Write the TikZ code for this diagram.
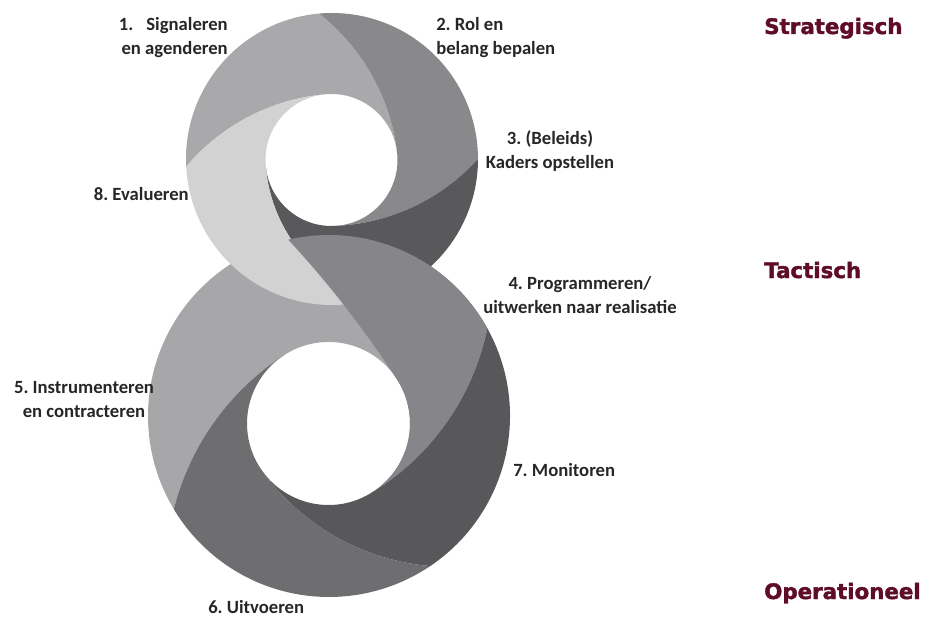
\documentclass[tikz,border=0pt]{standalone}
\usepackage{fontspec}
\setmainfont{Carlito}
\newfontfamily\labfont[BoldFeatures={FakeBold=1.8}]{DejaVu Sans}
\usetikzlibrary{calc}
\frenchspacing
\definecolor{segA}{HTML}{A9A9AB}
\definecolor{segB}{HTML}{89898C}
\definecolor{segC}{HTML}{59595B}
\definecolor{segH}{HTML}{D2D2D2}
\definecolor{segD}{HTML}{86868A}
\definecolor{segE}{HTML}{A7A7A9}
\definecolor{segF}{HTML}{6E6E71}
\definecolor{segG}{HTML}{58585A}
\definecolor{txt}{HTML}{262626}
\definecolor{maroon}{HTML}{5F0C26}
% ring parameters: hole centre, outer centre, inner radius, outer radius
\newcommand\setring[6]{\def\hx{#1}\def\hy{#2}\def\ox{#3}\def\oy{#4}\def\rr{#5}\def\RR{#6}}
% boundary: name, outer angle, inner (tangent) angle
\newcommand\mkbnd[3]{%
 \pgfmathsetmacro\tux{cos(#3)}%
 \pgfmathsetmacro\tuy{sin(#3)}%
 \pgfmathsetmacro\twx{\ox+\RR*cos(#2)-\hx}%
 \pgfmathsetmacro\twy{\oy+\RR*sin(#2)-\hy}%
 \pgfmathsetmacro\twu{\twx*\tux+\twy*\tuy}%
 \pgfmathsetmacro\trho{(\twx*\twx+\twy*\twy-2*\rr*\twu+\rr*\rr)/(2*\rr-2*\twu)}%
 \pgfmathsetmacro\tox{\hx+(\rr-\trho)*\tux}%
 \pgfmathsetmacro\toy{\hy+(\rr-\trho)*\tuy}%
 \pgfmathsetmacro\tal{atan2(\twy+\hy-\toy,\twx+\hx-\tox)}%
 \pgfmathsetmacro\tal{(#3)+mod(mod(\tal-(#3),360)+360,360)}%
 \expandafter\xdef\csname bnd#1th\endcsname{#2}%
 \expandafter\xdef\csname bnd#1ph\endcsname{#3}%
 \expandafter\xdef\csname bnd#1rho\endcsname{\trho}%
 \expandafter\xdef\csname bnd#1al\endcsname{\tal}%
}
% segment between boundary #1 and the next boundary #2 (clockwise)
\newcommand\ringseg[3]{%
 \edef\tmpcmd{\noexpand\fill[#3] ($(\ox,\oy)+(\csname bnd#1th\endcsname:\RR)$)
  arc[start angle=\csname bnd#1th\endcsname, end angle=\csname bnd#2th\endcsname, radius=\RR]
  arc[start angle=\csname bnd#2al\endcsname, end angle=\csname bnd#2ph\endcsname, radius=\csname bnd#2rho\endcsname]
  arc[start angle=\csname bnd#2ph\endcsname, end angle=\csname bnd#1ph\endcsname, radius=\rr]
  arc[start angle=\csname bnd#1ph\endcsname, end angle=\csname bnd#1al\endcsname, radius=\csname bnd#1rho\endcsname]
  -- cycle;}\tmpcmd}
\begin{document}
\begin{tikzpicture}[x=7.5pt,y=7.5pt,
  lab/.style={text=txt,font=\bfseries\fontsize{14}{18}\selectfont,inner sep=0pt},
  level/.style={text=maroon,font=\labfont\bfseries\fontsize{16}{19}\selectfont,inner sep=0pt,anchor=base west}]
\useasboundingbox (0,0) rectangle (92.5,-61.7);
% bottom ring
\setring{32.85}{-42.35}{32.9}{-41.6}{8.15}{18.1}
\mkbnd{ba}{103}{33}
\mkbnd{bb}{29}{-59}
\mkbnd{bc}{-56}{-144}
\mkbnd{bd}{-149}{-237}
\mkbnd{bdp}{211}{123}
\ringseg{bdp}{ba}{segE}
\ringseg{ba}{bb}{segD}
\ringseg{bb}{bc}{segG}
\ringseg{bc}{bd}{segF}
% top ring
\setring{33.15}{-16.0}{33.2}{-15.9}{6.6}{14.6}
\mkbnd{ta}{95}{7}
\mkbnd{tb}{0}{-88}
\mkbnd{tc}{-75}{-176}
\mkbnd{td}{-177}{-265}
\mkbnd{tdp}{183}{95}
\ringseg{tdp}{ta}{segA}
\ringseg{ta}{tb}{segB}
\ringseg{tb}{tc}{segC}
\ringseg{tc}{td}{segH}
% bottom ring segment 4 over the crossing
\setring{32.85}{-42.35}{32.9}{-41.6}{8.15}{18.1}
\ringseg{ba}{bb}{segD}
% labels
\node[lab,anchor=base east,align=right] (n1) at (22.8,-5.5) {1.\hspace{.7em}Signaleren\\en agenderen};
\node[lab,anchor=base west,align=left] (n2) at (43.6,-5.5) {2. Rol en\\belang bepalen};
\node[lab,anchor=base,align=center] (n3) at (55.0,-16.8) {3. (Beleids)\\Kaders opstellen};
\node[lab,anchor=base,align=center] (n4) at (58.0,-31.3) {4. Programmeren/\\uitwerken naar realisatie};
\node[lab,anchor=base,align=center] (n5) at (8.4,-41.7) {5. Instrumenteren\\en contracteren};
\node[lab,anchor=base west] (n6) at (20.8,-61.3) {6. Uitvoeren};
\node[lab,anchor=base west] (n7) at (51.3,-47.6) {7. Monitoren};
\node[lab,anchor=base east] (n8) at (18.9,-20.0) {8. Evalueren};
\node[level] (s) at (76.4,-3.4) {Strategisch};
\node[level] (t) at (76.4,-27.8) {Tactisch};
\node[level] (o) at (76.4,-59.9) {Operationeel};
\end{tikzpicture}
\end{document}
